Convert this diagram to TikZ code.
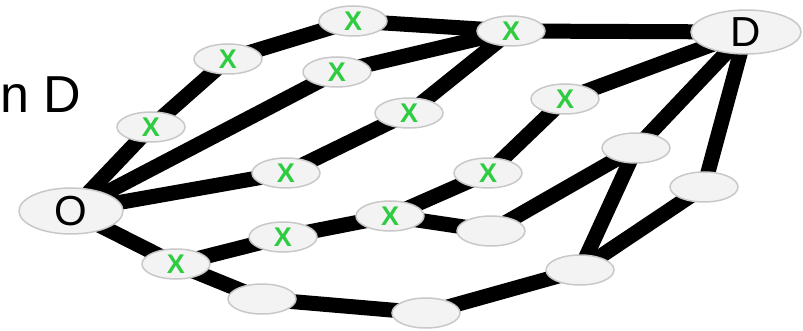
\documentclass[tikz,border=0pt]{standalone}
\usepackage{fontspec}
\setmainfont{Liberation Sans}
\usetikzlibrary{shapes.geometric,backgrounds}

\definecolor{nodefill}{RGB}{243,243,243}
\definecolor{nodeline}{RGB}{200,200,200}
\definecolor{markgreen}{RGB}{46,204,64}

\begin{document}
\begin{tikzpicture}[x=1pt, y=-1pt,
    every node/.style = {shape=ellipse, draw=nodeline, line width=1.5pt,
      fill=nodefill, inner sep=0pt},
    hop/.style = {minimum width=68pt, minimum height=30pt,
      font=\bfseries\fontsize{27}{27}\selectfont, text=markgreen},
    endpt/.style = {minimum width=104pt, minimum height=46pt,
      font=\fontsize{42}{42}\selectfont},
    link/.style = {line width=15pt}]
  \useasboundingbox (0,0) rectangle (803,331);
  \node[draw=none, fill=none, anchor=west, font=\fontsize{52}{52}\selectfont]
    (title) at (-17,95) {n D};

  % ends
  \node[endpt] (O) at (71,211) {O};
  \node[endpt, minimum width=110pt, minimum height=44pt] (D) at (746,32) {D};

  % upper paths
  \node[hop] (a1) at (151,127) {X};
  \node[hop] (a2) at (228,59) {X};
  \node[hop] (a3) at (353,21) {X};
  \node[hop] (hub) at (511,31) {X};
  \node[hop] (b1) at (337,72) {X};
  \node[hop] (c1) at (409,113) {X};
  \node[hop] (c2) at (286,173) {X};

  % middle path
  \node[hop] (e1) at (565,99) {X};
  \node[hop] (e2) at (488,173) {X};
  \node[hop] (f1) at (390,216) {X};
  \node[hop] (f2) at (283,237) {X};
  \node[hop] (f3) at (176,264) {X};

  % empty hops
  \node[hop] (g1) at (491,231) {};
  \node[hop] (g2) at (636,148) {};
  \node[hop] (g3) at (704,187) {};
  \node[hop] (g4) at (580,270) {};
  \node[hop] (g5) at (262,299) {};
  \node[hop] (g6) at (426,313) {};

  % links run centre to centre, under the nodes
  \begin{scope}[on background layer]
    \draw[link] (O.center) -- (a1.center) -- (a2.center) -- (a3.center)
      -- (hub.center) -- (D.center);
    \draw[link] (O.center) -- (b1.center) -- (hub.center);
    \draw[link] (O.center) -- (c2.center) -- (c1.center) -- (hub.center);
    \draw[link] (D.center) -- (e1.center) -- (e2.center) -- (f1.center)
      -- (f2.center) -- (f3.center) -- (O.center);
    \draw[link] (f1.center) -- (g1.center) -- (g2.center) -- (D.center);
    \draw[link] (g2.center) -- (g4.center);
    \draw[link] (D.center) -- (g3.center) -- (g4.center);
    \draw[link] (f3.center) -- (g5.center) -- (g6.center) -- (g4.center);
  \end{scope}
\end{tikzpicture}
\end{document}
